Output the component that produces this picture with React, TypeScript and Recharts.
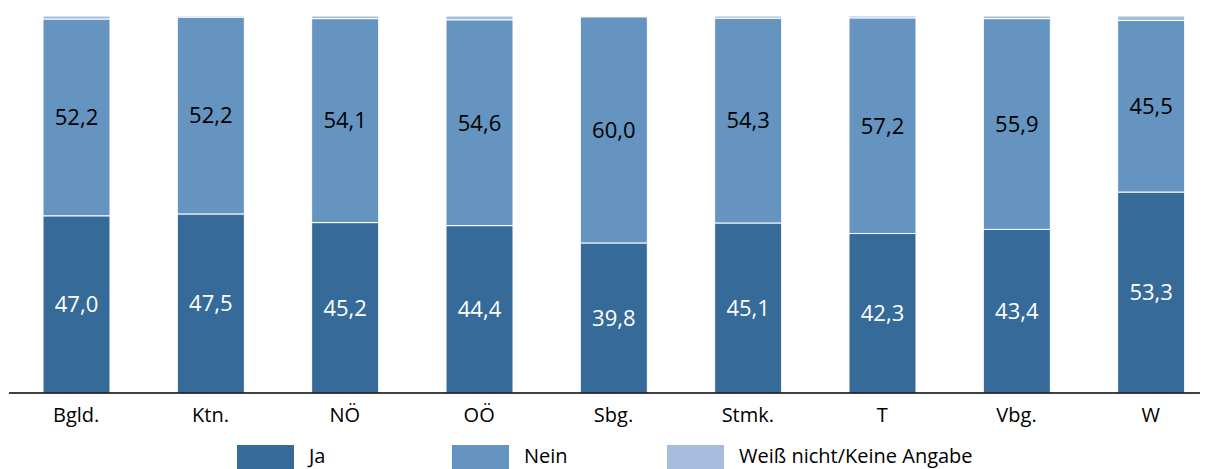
import React from "react";
import { BarChart, Bar, XAxis, YAxis, LabelList, Legend } from "recharts";

const categories = ["Bgld.", "Ktn.", "NÖ", "OÖ", "Sbg.", "Stmk.", "T", "Vbg.", "W"];
const jaValues = [47.0, 47.5, 45.2, 44.4, 39.8, 45.1, 42.3, 43.4, 53.3];
const neinValues = [52.2, 52.2, 54.1, 54.6, 60.0, 54.3, 57.2, 55.9, 45.5];
const weissNichtValues = [0.8, 0.3, 0.7, 1.0, 0.2, 0.6, 0.5, 0.7, 1.2];

const seriesNames = ["Ja", "Nein", "Weiß nicht/Keine Angabe"];
const colors = ["#366a98", "#6494bf", "#a6bcdc"];

const data = categories.map((c, i) => ({
  name: c,
  ja: jaValues[i],
  nein: neinValues[i],
  wn: weissNichtValues[i],
}));

const FONT = "'Open Sans', 'Liberation Sans', sans-serif";

const fmt = (v: any) => (typeof v === "number" ? v.toFixed(1).replace(".", ",") : v);

const LegendContent = () => (
  <div style={{ height: 46, position: "relative", fontFamily: FONT, fontSize: 20 }}>
    {seriesNames.map((n, i) => (
      <div
        key={n}
        style={{
          position: "absolute",
          left: 229 + i * 215,
          top: 22,
          display: "flex",
          alignItems: "flex-start",
          whiteSpace: "nowrap",
          color: "#000",
        }}
      >
        <div style={{ width: 57, height: 24, background: colors[i], marginRight: 15 }} />
        <span style={{ lineHeight: "22px" }}>{n}</span>
      </div>
    ))}
  </div>
);

export default function App() {
  return (
    <div style={{ width: 1200, height: 461, overflow: "hidden", position: "relative" }}>
      <BarChart
        width={1211}
        height={461}
        data={data}
        margin={{ top: 8, right: 1, left: 1, bottom: 0 }}
        barSize={67}
      >
        <XAxis
          dataKey="name"
          height={30}
          tickLine={false}
          tickMargin={9}
          axisLine={{ stroke: "#000", strokeWidth: 1.3 }}
          tick={{ fill: "#000", fontSize: 20, fontFamily: FONT }}
          interval={0}
        />
        <YAxis hide domain={[0, 100]} />
        <Legend
          verticalAlign="bottom"
          wrapperStyle={{ left: 0, width: 1200, height: 46 }}
          content={LegendContent}
        />
        <Bar dataKey="ja" stackId="a" fill={colors[0]} stroke="#fff" strokeWidth={1} isAnimationActive={false}>
          <LabelList dataKey="ja" position="center" formatter={fmt} fill="#fff" fontSize={22} fontFamily={FONT} />
        </Bar>
        <Bar dataKey="nein" stackId="a" fill={colors[1]} stroke="#fff" strokeWidth={1} isAnimationActive={false}>
          <LabelList dataKey="nein" position="center" formatter={fmt} fill="#000" fontSize={22} fontFamily={FONT} />
        </Bar>
        <Bar dataKey="wn" stackId="a" fill={colors[2]} stroke="#fff" strokeWidth={1} isAnimationActive={false} />
      </BarChart>
    </div>
  );
}
